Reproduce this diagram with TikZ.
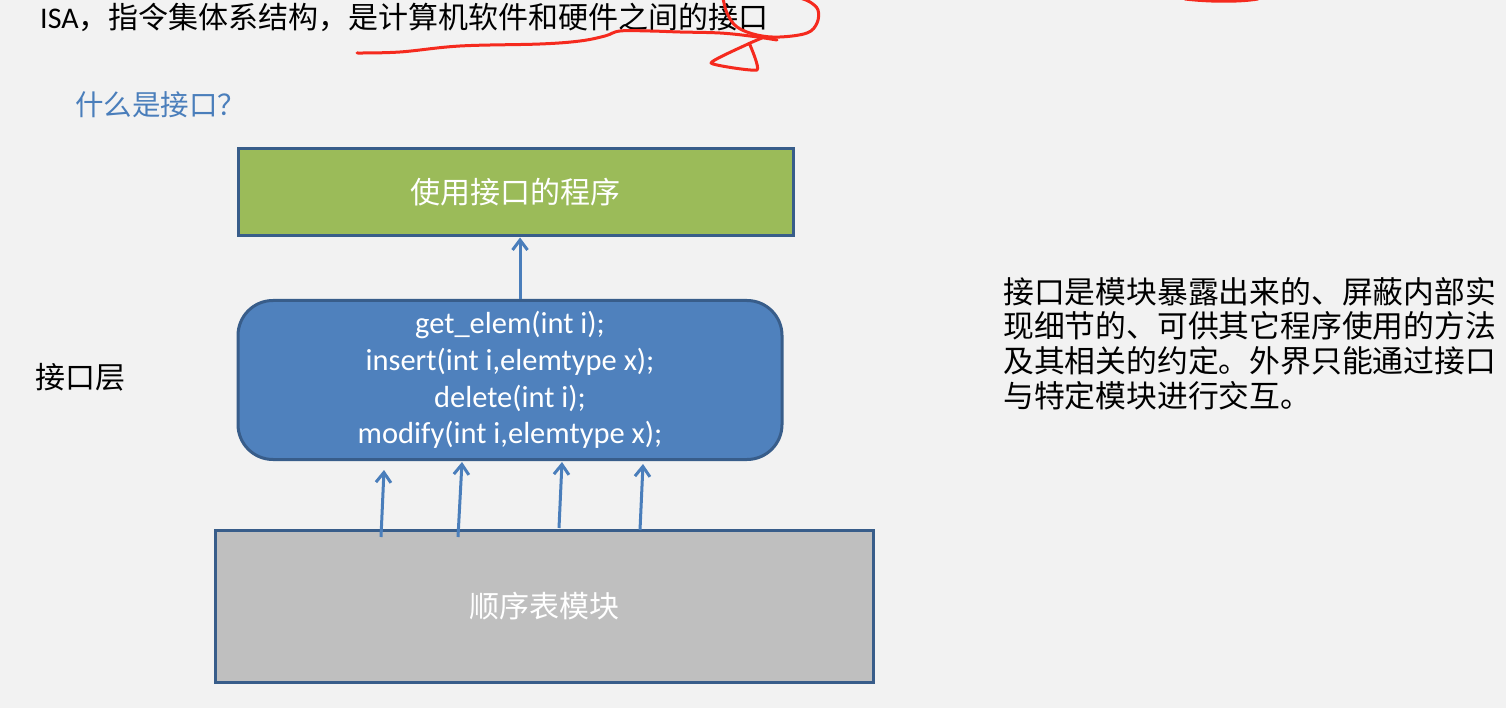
\documentclass[tikz,border=0pt]{standalone}
\usepackage{fontspec}
\newfontfamily\cjk{Noto Sans CJK SC}
\newfontfamily\lat{Carlito}
\usetikzlibrary{arrows.meta}
\definecolor{bgc}{HTML}{F2F2F2}
\definecolor{greenfill}{HTML}{9BBB59}
\definecolor{bluefill}{HTML}{4F81BD}
\definecolor{boxline}{HTML}{385D8A}
\definecolor{grayfill}{HTML}{BFBFBF}
\definecolor{titleblue}{HTML}{4A7EBB}
\definecolor{arrowblue}{HTML}{4A7EBB}
\definecolor{penred}{HTML}{F52A1E}
\tikzset{
  x=1pt, y=-1pt,
  boxstyle/.style={draw=boxline, line width=3pt, inner sep=0pt, text=white},
  cjktext/.style={font=\cjk\fontsize{30}{36}\selectfont, inner sep=0pt},
  arr/.style={draw=arrowblue, line width=3pt, -{Straight Barb[length=10pt,width=15pt,line width=3pt]}},
  pen/.style={draw=penred, line width=3pt, line cap=round, line join=round},
}
\begin{document}
\begin{tikzpicture}
\useasboundingbox (0,0) rectangle (1506,708);
\fill[bgc] (0,0) rectangle (1506,708);

% title line
\node[anchor=base west, inner sep=0pt] (title) at (40,29)
  {\lat\fontsize{30}{36}\selectfont ISA\cjk ，指令集体系结构，是计算机软件和硬件之间的接口};

% question
\node[cjktext, anchor=west, text=titleblue, font=\cjk\fontsize{28.5}{34}\selectfont] (question) at (75,105) {什么是接口？};

% layer label
\node[cjktext, anchor=west] (layer) at (35,377) {接口层};

% boxes
\node[boxstyle, fill=greenfill, minimum width=555pt, minimum height=87pt, font=\cjk\fontsize{30}{36}\selectfont] (green) at (515.5,192.5) {使用接口的程序};
\node[boxstyle, fill=bluefill, rounded corners=35pt, minimum width=544pt, minimum height=159pt, align=center, font=\lat\fontsize{30.5}{36.7}\selectfont] (blue) at (510,380)
  {get\_elem(int i);\\insert(int i,elemtype x);\\delete(int i);\\modify(int i,elemtype x);};
\node[boxstyle, fill=grayfill, minimum width=658pt, minimum height=152pt, font=\cjk\fontsize{30}{36}\selectfont] (gray) at (544,606) {顺序表模块};

% right paragraph
\node[anchor=north west, inner sep=0pt, align=left, font=\cjk\fontsize{30.8}{34.6}\selectfont] (desc) at (1003,277)
  {接口是模块暴露出来的、屏蔽内部实\\现细节的、可供其它程序使用的方法\\及其相关的约定。外界只能通过接口\\与特定模块进行交互。};

% arrows
\coordinate (topx) at (520,0);
\draw[arr] (blue.north -| topx) -- (green.south -| topx);
\coordinate (s1) at (381,537); \coordinate (t1) at (384,470);
\coordinate (s2) at (458,537); \coordinate (t2) at (462,462);
\coordinate (s3) at (559,528); \coordinate (t3) at (562,462);
\coordinate (s4) at (640,530); \coordinate (t4) at (643,464);
\draw[arr] (s1) -- (t1);
\draw[arr] (s2) -- (t2);
\draw[arr] (s3) -- (t3);
\draw[arr] (s4) -- (t4);

% red pen annotations
\draw[pen] plot[smooth, tension=0.6] coordinates {(357,53) (400,52) (460,46) (540,44) (580,41) (605,36) (620,31) (650,31) (680,32) (720,33) (750,36) (777,40)};
\draw[pen] plot[smooth, tension=0.6] coordinates {(723,-2) (727,13) (737,27) (757,35) (780,37) (807,33) (817,23) (818,10) (810,2) (800,-2)};
\draw[pen] plot[smooth, tension=0.3] coordinates {(762,38) (748,44) (711,63) (757,70) (750,45)};
\draw[pen] (1185,-1) .. controls (1210,2) and (1240,2) .. (1258,-1);
\end{tikzpicture}
\end{document}
